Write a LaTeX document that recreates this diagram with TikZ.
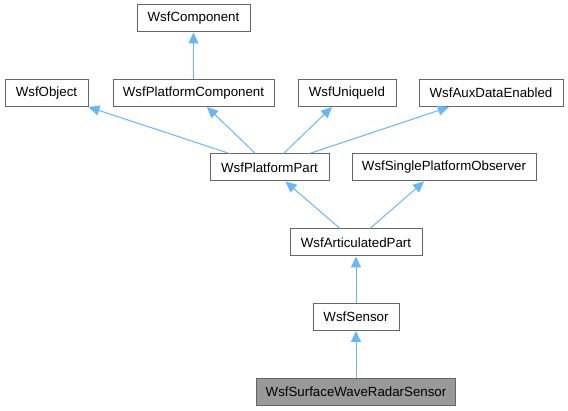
\documentclass[tikz,border=0pt]{standalone}
\usepackage{fontspec}
\setmainfont{Liberation Sans}
\usetikzlibrary{arrows.meta,positioning}
\definecolor{edgeblue}{HTML}{63B8FF}
\definecolor{boxgray}{HTML}{666666}
\definecolor{hlgray}{HTML}{999999}

\begin{document}
\begin{tikzpicture}[x=1pt,y=-1pt,
  every node/.style = {draw=boxgray, line width=1pt, fill=white,
    inner sep=0pt, minimum height=27pt,
    font=\fontsize{13.3}{16}\selectfont},
  current/.style = {fill=hlgray},
  inherit/.style = {draw=edgeblue, line width=1pt,
    -{Triangle[width=10pt,length=11pt]}}]
  \useasboundingbox (0,0) rectangle (568,411);
  % base classes
  \node[minimum width=113pt] (comp) at (193.5,18.5) {WsfComponent};
  \node[minimum width=83pt] (obj) at (46.5,93) {WsfObject};
  \node[minimum width=161pt] (pcomp) at (193.5,93) {WsfPlatformComponent};
  \node[minimum width=98pt] (uid) at (347,93) {WsfUniqueId};
  \node[minimum width=144pt] (aux) at (491,93) {WsfAuxDataEnabled};
  % middle
  \node[minimum width=119pt] (ppart) at (269.5,167.5) {WsfPlatformPart};
  \node[minimum width=184pt] (obs) at (444,167.5) {WsfSinglePlatformObserver};
  \node[minimum width=132pt] (art) at (356,242.5) {WsfArticulatedPart};
  \node[minimum width=86pt] (sens) at (356,317) {WsfSensor};
  % the class itself
  \node[current, minimum width=199pt] (radar) at (356,392) {WsfSurfaceWaveRadarSensor};

  \draw[inherit] (pcomp) -- (comp);
  \draw[inherit] ([xshift=20pt]ppart.north west) -- (obj.south east);
  \draw[inherit] ([xshift=46pt]ppart.north west) -- ([xshift=13.5pt]pcomp.south);
  \draw[inherit] ([xshift=74pt]ppart.north west) -- ([xshift=-15pt]uid.south);
  \draw[inherit] ([xshift=100pt]ppart.north west) -- ([xshift=-42pt]aux.south);
  \draw[inherit] ([xshift=-16pt]art.north) -- ([xshift=16pt]ppart.south);
  \draw[inherit] ([xshift=14pt]art.north) -- ([xshift=-20pt]obs.south);
  \draw[inherit] (sens) -- (art);
  \draw[inherit] (radar) -- (sens);
\end{tikzpicture}
\end{document}
